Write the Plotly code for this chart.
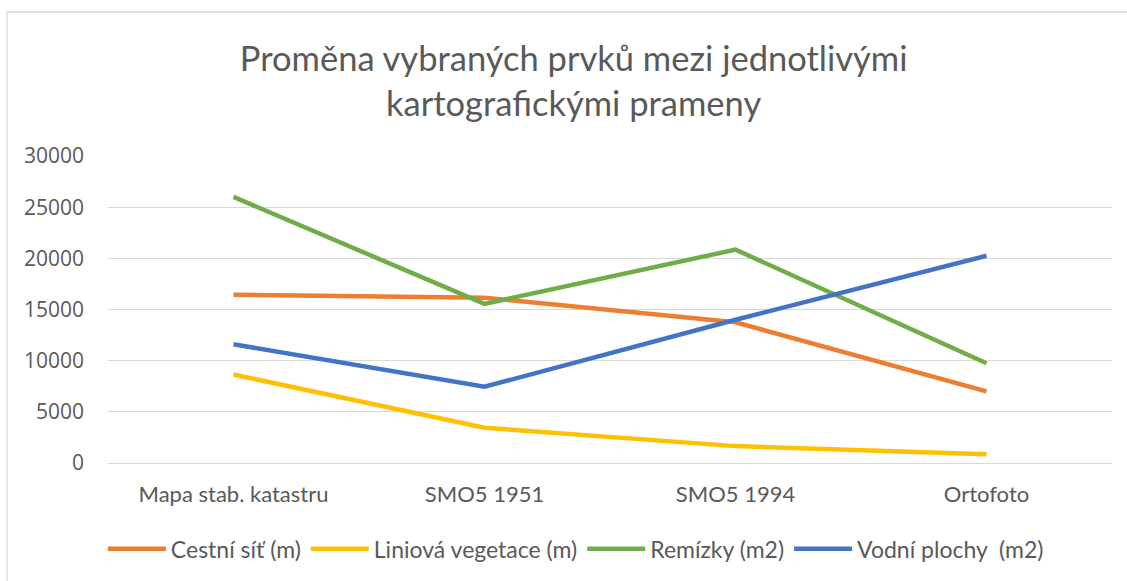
import plotly.graph_objects as go

categories = ["Mapa stab. katastru", "SMO5 1951", "SMO5 1994", "Ortofoto"]
cestni_sit = [16450, 16150, 13750, 7000]
liniova_vegetace = [8650, 3450, 1650, 850]
remizky = [26000, 15550, 20850, 9750]
vodni_plochy = [11600, 7450, 14000, 20250]

series = [
    ("Cestní síť (m)", cestni_sit, "#ED7D31"),
    ("Liniová vegetace (m)", liniova_vegetace, "#FFC000"),
    ("Remízky (m2)", remizky, "#70AD47"),
    ("Vodní plochy  (m2)", vodni_plochy, "#4472C4"),
]

font_family = "Lato, Carlito, Calibri, sans-serif"

fig = go.Figure()
for name, vals, col in series:
    fig.add_trace(go.Scatter(
        x=categories, y=vals, name=name, mode="lines",
        line=dict(color=col, width=4.5),
    ))

fig.update_layout(
    width=1127, height=581,
    paper_bgcolor="white", plot_bgcolor="white",
    margin=dict(l=108, r=15, t=156, b=117),
    title=dict(
        text="Proměna vybraných prvků mezi jednotlivými<br>kartografickými prameny",
        x=0.509, xanchor="center", y=0.877, yanchor="middle",
        font=dict(family=font_family, size=34.5, color="#595959"),
    ),
    font=dict(family=font_family, color="#595959", size=18),
    xaxis=dict(
        type="category", range=[-0.5, 3.5], showgrid=False, zeroline=False,
        showline=False, ticks="", tickfont=dict(size=22, color="#595959"),
        ticklabelstandoff=16,
    ),
    yaxis=dict(
        range=[0, 30000], dtick=5000, showgrid=True, gridcolor="#D9D9D9",
        gridwidth=1.3, zeroline=True, zerolinecolor="#D9D9D9", zerolinewidth=1.3,
        showline=False, ticks="", tickformat="d",
        tickfont=dict(family="Open Sans, sans-serif", size=21, color="#595959"),
        ticklabelstandoff=23,
    ),
    legend=dict(
        orientation="h", x=0.466, xanchor="center", y=-0.275, yanchor="middle",
        font=dict(size=23, color="#595959"), itemwidth=58,
        traceorder="normal",
    ),
    showlegend=True,
)

fig.add_shape(type="rect", xref="paper", yref="paper",
              x0=-0.1006, x1=1.05, y0=-0.45, y1=1.469, layer="below",
              line=dict(color="#D9D9D9", width=1.3))

fig.write_html("out.html", config={"displayModeBar": False},
               post_script="document.body.style.margin='0';")
